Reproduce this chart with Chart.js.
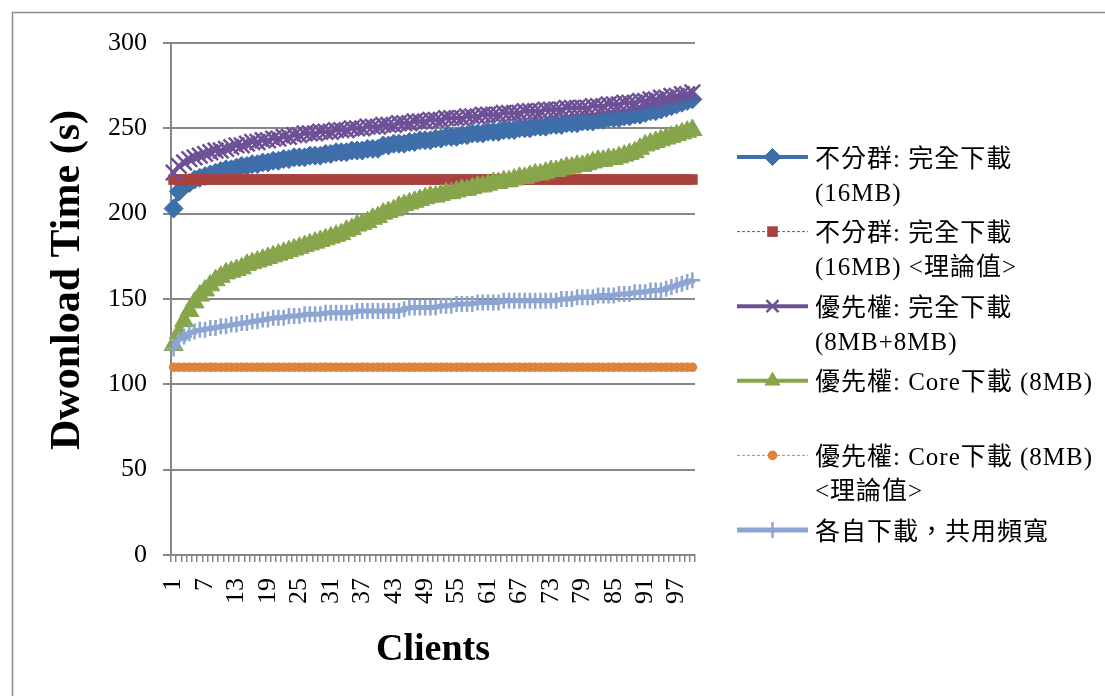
<!DOCTYPE html>
<html>
<head>
<meta charset="utf-8">
<script src="https://cdn.jsdelivr.net/npm/chart.js@4.4.1/dist/chart.umd.min.js"></script>
<style>
  html, body { margin: 0; padding: 0; background: #ffffff; }
  #wrap { width: 1105px; height: 696px; position: relative; }
</style>
</head>
<body>
<div id="wrap"><canvas id="chart" width="1105" height="696"></canvas></div>
<script>
// Client numbers along the x axis
const clients = [
  1,2,3,4,5,6,7,8,9,10,11,12,13,14,15,16,17,18,19,20,
  21,22,23,24,25,26,27,28,29,30,31,32,33,34,35,36,37,38,39,40,
  41,42,43,44,45,46,47,48,49,50,51,52,53,54,55,56,57,58,59,60,
  61,62,63,64,65,66,67,68,69,70,71,72,73,74,75,76,77,78,79,80,
  81,82,83,84,85,86,87,88,89,90,91,92,93,94,95,96,97,98,99,100
];
// Client numbers that get a printed label
const labelledClients = [1,7,13,19,25,31,37,43,49,55,61,67,73,79,85,91,97];
// Y axis ticks (seconds)
const yTickValues = [0,50,100,150,200,250,300];

// Legend text, one array of lines per series
const seriesNames = [
  ['不分群: 完全下載', '(16MB)'],
  ['不分群: 完全下載', '(16MB) <理論值>'],
  ['優先權: 完全下載', '(8MB+8MB)'],
  ['優先權: Core下載 (8MB)'],
  ['優先權: Core下載 (8MB)', '<理論值>'],
  ['各自下載，共用頻寬']
];

// 不分群: 完全下載 (16MB)
const noGroupFull = [
  203,213,216,218,220,221,222,223,224,225,
  226,226,227,228,228,229,229,230,230,231,
  231,232,232,233,233,233,234,234,234,235,
  235,236,236,236,237,237,237,238,238,238,
  240,240,241,241,241,242,242,243,243,243,
  244,244,245,245,245,246,246,247,247,247,
  248,248,248,249,249,249,250,250,250,251,
  251,251,252,252,252,253,253,253,254,254,
  254,255,255,256,256,256,257,257,258,258,
  259,260,260,261,262,263,264,265,266,267
];
// 不分群: 完全下載 (16MB) <理論值>
const noGroupTheory = [
  220,220,220,220,220,220,220,220,220,220,
  220,220,220,220,220,220,220,220,220,220,
  220,220,220,220,220,220,220,220,220,220,
  220,220,220,220,220,220,220,220,220,220,
  220,220,220,220,220,220,220,220,220,220,
  220,220,220,220,220,220,220,220,220,220,
  220,220,220,220,220,220,220,220,220,220,
  220,220,220,220,220,220,220,220,220,220,
  220,220,220,220,220,220,220,220,220,220,
  220,220,220,220,220,220,220,220,220,220
];
// 優先權: 完全下載 (8MB+8MB)
const priorityFull = [
  224,228,230,232,233,234,235,236,237,237,
  238,239,240,240,241,242,242,243,243,244,
  244,245,245,246,246,247,247,247,248,248,
  248,249,249,249,250,250,250,251,251,251,
  252,252,252,253,253,253,254,254,254,255,
  255,255,256,256,256,256,257,257,257,258,
  258,258,258,259,259,259,259,260,260,260,
  260,261,261,261,261,262,262,262,262,262,
  263,263,263,264,264,264,265,265,265,266,
  266,267,267,268,268,269,269,270,270,271
];
// 優先權: Core下載 (8MB)
const priorityCore = [
  123,130,137,143,148,152,155,158,161,163,
  165,166,167,168,170,171,172,173,174,175,
  176,177,178,179,180,181,182,183,184,185,
  186,187,188,190,191,193,194,195,197,198,
  200,201,202,204,205,206,207,208,209,210,
  210,211,212,212,213,214,214,215,216,216,
  217,218,218,219,219,220,221,221,222,223,
  223,224,225,225,226,227,227,228,228,229,
  230,231,231,232,232,233,234,235,236,238,
  240,241,242,243,244,245,246,247,248,249
];
// 優先權: Core下載 (8MB) <理論值>
const priorityCoreTheory = [
  110,110,110,110,110,110,110,110,110,110,
  110,110,110,110,110,110,110,110,110,110,
  110,110,110,110,110,110,110,110,110,110,
  110,110,110,110,110,110,110,110,110,110,
  110,110,110,110,110,110,110,110,110,110,
  110,110,110,110,110,110,110,110,110,110,
  110,110,110,110,110,110,110,110,110,110,
  110,110,110,110,110,110,110,110,110,110,
  110,110,110,110,110,110,110,110,110,110,
  110,110,110,110,110,110,110,110,110,110
];
// 各自下載，共用頻寬
const separateShared = [
  121,126,128,130,131,132,132,133,133,134,
  134,135,135,136,136,137,137,138,138,139,
  139,139,140,140,140,141,141,141,141,142,
  142,142,142,142,142,143,143,143,143,143,
  143,143,143,143,144,145,145,145,145,145,
  145,146,146,146,147,147,147,147,148,148,
  148,148,148,149,149,149,149,149,149,149,
  149,149,149,149,150,150,150,151,151,151,
  151,152,152,152,152,153,153,153,154,154,
  154,155,155,155,156,157,158,159,160,161
];

const GRID = '#878787';
const SERIF = '"Liberation Serif", "Times New Roman", serif';
const LEGEND_FONT = '25px "Liberation Serif", "Noto Sans CJK TC", serif';

function series(idx, data, color, opts) {
  return Object.assign({
    label: seriesNames[idx].join(' '),
    data: data,
    borderColor: color,
    backgroundColor: color,
    pointBackgroundColor: color,
    pointBorderColor: color,
    tension: 0,
    clip: false,
    order: 5 - idx
  }, opts);
}

const datasets = [
  series(0, noGroupFull, '#3E6FAA', { borderWidth: 4, pointStyle: 'rectRot', pointRadius: 9.5, pointBorderWidth: 1 }),
  series(1, noGroupTheory, '#AA413E', { borderWidth: 1, borderDash: [3, 2], pointStyle: 'rect', pointRadius: 7.5, pointBorderWidth: 0 }),
  series(2, priorityFull, '#6E5096', { borderWidth: 4, pointStyle: 'crossRot', pointRadius: 11, pointBorderWidth: 2.5 }),
  series(3, priorityCore, '#87A54B', { borderWidth: 4, pointStyle: 'triangle', pointRadius: 11, pointBorderWidth: 1 }),
  series(4, priorityCoreTheory, '#E08237', { borderWidth: 1, borderDash: [3, 2], pointStyle: 'circle', pointRadius: 4.8, pointBorderWidth: 0 }),
  series(5, separateShared, '#8CA5D2', { borderWidth: 5, pointStyle: 'cross', pointRadius: 8, pointBorderWidth: 2.5 })
];

// Frame, y-axis title and the side legend
const decorations = {
  id: 'decorations',
  beforeDraw(chart) {
    const ctx = chart.ctx;
    ctx.save();
    ctx.fillStyle = '#ffffff';
    ctx.fillRect(0, 0, chart.width, chart.height);
    ctx.strokeStyle = '#8c8c8c';
    ctx.lineWidth = 1.5;
    ctx.strokeRect(12.5, 12.5, chart.width + 10, chart.height + 10);
    ctx.restore();
  },
  afterDraw(chart) {
    const ctx = chart.ctx;
    const area = chart.chartArea;

    // y-axis title
    ctx.save();
    ctx.translate(68, 280);
    ctx.rotate(-Math.PI / 2);
    ctx.font = 'bold 42px ' + SERIF;
    ctx.fillStyle = '#000000';
    ctx.textAlign = 'center';
    ctx.textBaseline = 'middle';
    ctx.fillText('Dwonload Time (s)', 0, 0);
    ctx.restore();

    // legend
    const lineX0 = area.right + 42;
    const lineX1 = area.right + 113;
    const textX = area.right + 120;
    const firstY = 157;
    const step = 74.6;
    chart.data.datasets.forEach((ds, i) => {
      const y = firstY + i * step;
      ctx.save();
      ctx.strokeStyle = ds.borderColor;
      ctx.lineWidth = ds.borderWidth;
      ctx.setLineDash(ds.borderDash || []);
      ctx.beginPath();
      ctx.moveTo(lineX0, y);
      ctx.lineTo(lineX1, y);
      ctx.stroke();
      ctx.setLineDash([]);
      ctx.fillStyle = ds.pointBackgroundColor;
      ctx.strokeStyle = ds.pointBorderColor;
      ctx.lineWidth = ds.pointBorderWidth;
      Chart.helpers.drawPoint(ctx, {
        pointStyle: ds.pointStyle,
        radius: Math.min(ds.pointRadius, 8.5),
        rotation: 0,
        borderWidth: ds.pointBorderWidth
      }, (lineX0 + lineX1) / 2, y);
      ctx.restore();

      ctx.save();
      ctx.font = LEGEND_FONT;
      ctx.fillStyle = '#000000';
      ctx.textAlign = 'left';
      ctx.textBaseline = 'middle';
      if ('letterSpacing' in ctx) ctx.letterSpacing = '1px';
      seriesNames[i].forEach((line, j) => {
        ctx.fillText(line, textX, y + 3 + j * 34);
      });
      ctx.restore();
    });
  }
};

new Chart(document.getElementById('chart'), {
  type: 'line',
  data: { labels: clients, datasets: datasets },
  options: {
    responsive: false,
    animation: false,
    devicePixelRatio: 1,
    layout: { padding: { left: 0, top: 43, right: 410, bottom: 0 } },
    plugins: {
      legend: { display: false },
      tooltip: { enabled: false },
      title: { display: false }
    },
    scales: {
      x: {
        type: 'category',
        offset: true,
        grid: { offset: true, drawOnChartArea: false, drawTicks: true, tickLength: 7, color: GRID, lineWidth: 1.5 },
        border: { color: GRID, width: 2 },
        ticks: {
          autoSkip: false,
          maxRotation: 90,
          minRotation: 90,
          padding: 16,
          color: '#000000',
          font: { family: SERIF, size: 26 },
          callback: function (value, index) {
            const c = clients[index];
            return labelledClients.includes(c) ? String(c) : '';
          }
        },
        title: {
          display: true,
          text: 'Clients',
          color: '#000000',
          font: { family: SERIF, size: 38, weight: 'bold' },
          padding: { top: 0, bottom: 23 }
        },
        afterFit(scale) { scale.height = 141; }
      },
      y: {
        min: 0,
        max: 300,
        afterBuildTicks(scale) { scale.ticks = yTickValues.map(v => ({ value: v })); },
        grid: { color: GRID, lineWidth: 2, tickLength: 8, drawTicks: true },
        border: { color: GRID, width: 2 },
        ticks: {
          padding: 16,
          color: '#000000',
          font: { family: SERIF, size: 26 }
        },
        afterFit(scale) { scale.width = 171; }
      }
    }
  },
  plugins: [decorations]
});
</script>
</body>
</html>
